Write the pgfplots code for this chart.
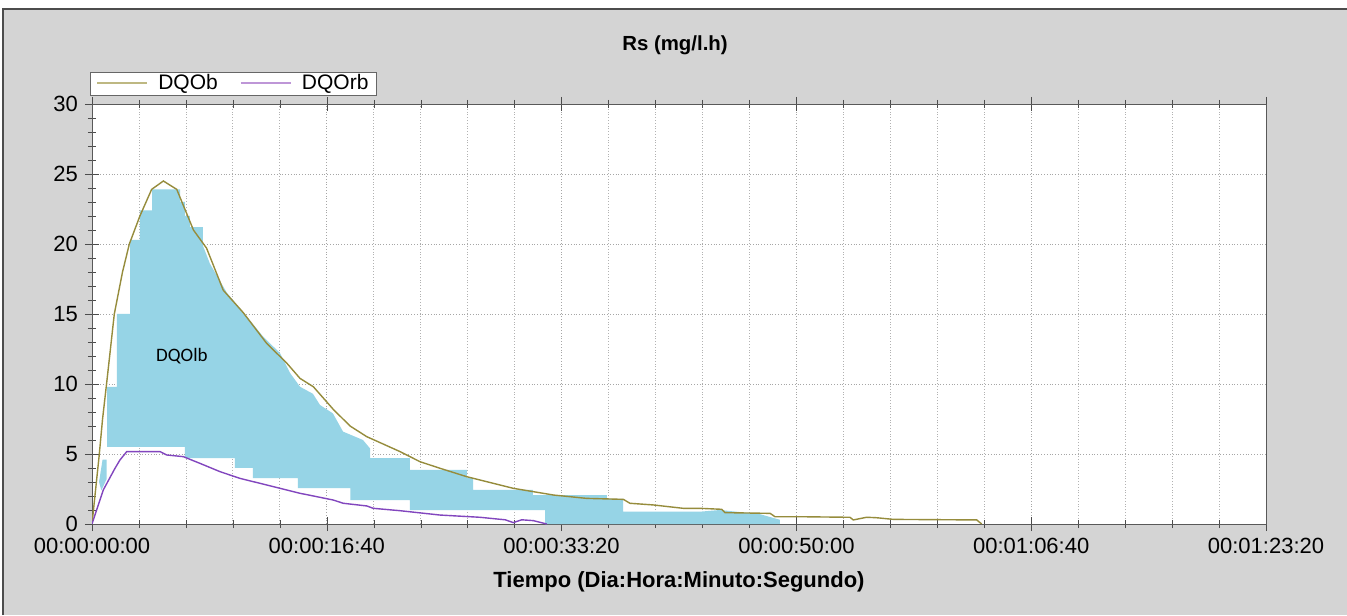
\documentclass[border=0pt]{standalone}
\usepackage{fontspec}
\setmainfont{Liberation Sans}
\newfontfamily\calibri{Carlito}
\usepackage{pgfplots}
\pgfplotsset{compat=1.18}
\definecolor{bggray}{RGB}{212,212,212}
\definecolor{dqob}{RGB}{150,140,60}
\definecolor{dqorb}{RGB}{130,70,190}
\definecolor{dqolb}{RGB}{150,212,230}
\definecolor{legob}{RGB}{190,184,130}
\definecolor{legorb}{RGB}{190,150,215}

\begin{document}
\begin{tikzpicture}
\path[use as bounding box] (0pt,0pt) rectangle (673.5pt,307.5pt);
\fill[white] (0pt,0pt) rectangle (673.5pt,307.5pt);
\fill[bggray] (1.5pt,0pt) rectangle (673.5pt,303pt);
\draw[black!70, line width=0.8pt] (1.5pt,0pt) -- (1.5pt,303pt) -- (673.5pt,303pt);
\node[font=\bfseries\fontsize{10.2}{12}\selectfont] at (337.5pt,285pt) {Rs (mg/l.h)};
\begin{axis}[
    at={(46pt,45.5pt)}, anchor=south west,
    scale only axis, width=587pt, height=210pt,
    xmin=0, xmax=5000, ymin=0, ymax=30,
    axis background/.style={fill=white},
    axis line style={black!65},
    xtick={0,1000,...,5000},
    xticklabels={00:00:00:00,00:00:16:40,00:00:33:20,00:00:50:00,00:01:06:40,00:01:23:20},
    minor x tick num=4,
    ytick={0,5,...,30},
    minor y tick num=4,
    xtick pos=both, ytick pos=left,
    tick align=center,
    major tick length=7pt, minor tick length=4pt,
    tick style={black!70},
    xmajorgrids, xminorgrids, ymajorgrids,
    major grid style={densely dotted, gray!70},
    minor grid style={densely dotted, gray!60},
    /pgf/number format/assume math mode=true,
    ticklabel style={font=\fontsize{11}{13}\selectfont},
    xlabel={Tiempo (Dia:Hora:Minuto:Segundo)},
    xlabel style={font=\bfseries\fontsize{11}{13}\selectfont, at={(axis description cs:0.5,-0.138)}, anchor=center},
    legend style={at={(-0.002,1.076)}, anchor=north west, legend columns=-1,
        draw=black!60, fill=white, font=\fontsize{10.5}{12}\selectfont,
        inner xsep=3pt, inner ysep=0.8pt,
        nodes={inner xsep=1pt, inner ysep=0.3pt},
        /tikz/every odd column/.append style={column sep=4pt},
        /tikz/every even column/.append style={column sep=10pt}},
]
% DQOlb area (patchy fill between the two curves)
\addplot[fill=dqolb, draw=none, forget plot] coordinates {
    (64,5.5) (64,9.8) (106,9.8) (106,15) (162,15) (162,20.3) (204,20.3) (204,22.4)
    (256,22.4) (256,23.9) (375,23.9) (375,23.0) (396,23.0) (396,22.0) (417,22.0)
    (417,21.2) (472,21.2) (472,19.9) (502,18.6) (575,16.5) (660,14.8) (728,13.4)
    (801,12.2) (843,10.8) (886,9.8) (941,9.3) (971,8.5) (1026,7.9) (1069,6.6)
    (1154,6.0) (1184,5.4) (1184,4.7) (1354,4.7) (1354,3.86) (1597,3.86) (1597,3.3)
    (1623,3.3) (1623,2.43) (1878,2.43) (1878,2.07) (2193,2.07) (2193,1.8) (2262,1.8)
    (2262,0.88) (2589,0.88) (2675,1.0) (2845,0.7) (2930,0.3) (2930,0)
    (1930,0) (1930,1.0) (1354,1.0) (1354,1.7) (1100,1.7) (1100,2.56) (877,2.56)
    (877,3.27) (685,3.27) (685,4.0) (609,4.0) (609,4.7) (396,4.7) (396,5.5)
} -- cycle;
\addplot[fill=dqolb, draw=none, forget plot] coordinates {
    (30,3.0) (45,4.6) (62,4.6) (62,3.2) (40,2.4)
} -- cycle;
\addplot[dqob, line width=0.7pt,
    legend image code/.code={\draw[legob, line width=1.1pt] (0pt,0.3pt) -- (25pt,0.3pt);}] coordinates {
    (0,0) (30,4.8) (45,7.5) (64,10.3) (95,15) (130,18) (159,20) (204,22) (254,23.9)
    (304,24.5) (361,23.9) (432,21) (488,19.7) (559,16.7) (644,15.1) (744,12.9)
    (829,11.5) (886,10.4) (943,9.8) (1027,8.2) (1099,7.0) (1170,6.24) (1312,5.17)
    (1397,4.45) (1482,3.98) (1596,3.38) (1794,2.55) (1965,2.07) (2107,1.83)
    (2263,1.76) (2291,1.48) (2391,1.36) (2518,1.12) (2589,1.12) (2682,1.05)
    (2696,0.81) (2888,0.76) (2909,0.52) (3015,0.52) (3228,0.48) (3242,0.29)
    (3299,0.48) (3340,0.45) (3413,0.33) (3768,0.29) (3789,0)
};
\addlegendentry{DQOb}
\addplot[dqorb, line width=0.7pt,
    legend image code/.code={\draw[legorb, line width=1.1pt] (0pt,0.3pt) -- (25pt,0.3pt);}] coordinates {
    (0,0) (48,2.43) (98,3.98) (119,4.57) (148,5.17) (290,5.17) (318,4.93) (389,4.81)
    (460,4.33) (545,3.74) (630,3.26) (772,2.67) (886,2.19) (914,2.1) (1028,1.71)
    (1070,1.48) (1170,1.29) (1198,1.12) (1312,0.95) (1482,0.64) (1652,0.48)
    (1760,0.30) (1794,0.10) (1830,0.3) (1880,0.24) (1937,0)
};
\addlegendentry{DQOrb}
\node[font=\calibri\fontsize{9.5}{11}\selectfont] at (axis cs:383,12) {DQOlb};
\end{axis}
\end{tikzpicture}
\end{document}
